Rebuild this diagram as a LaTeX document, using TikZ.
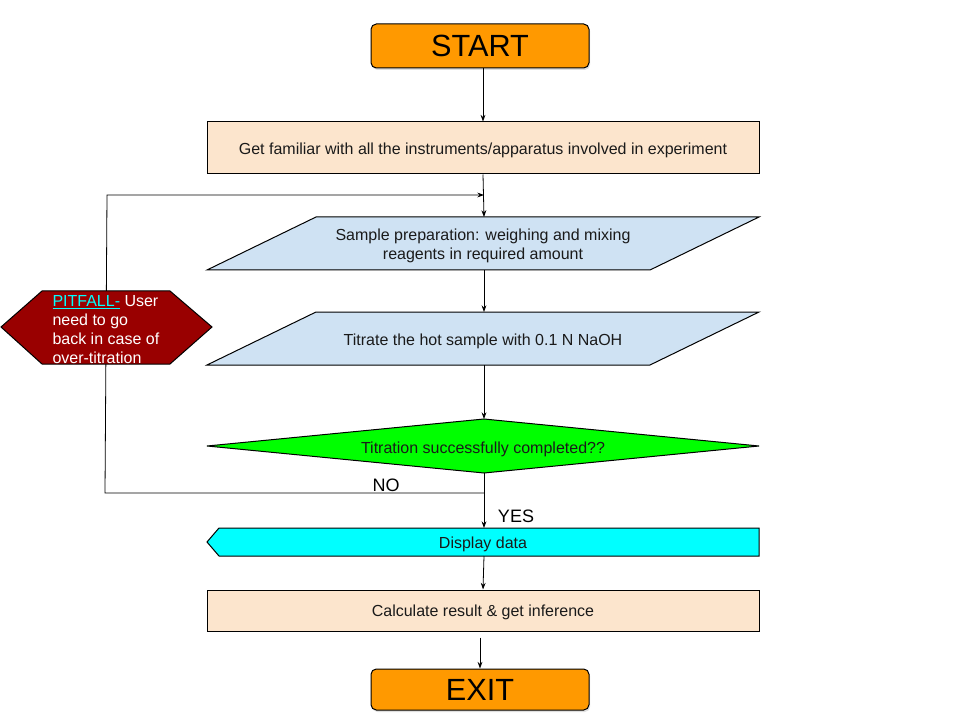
\documentclass[tikz,border=0pt]{standalone}
\usepackage{fontspec}
\setmainfont{Liberation Sans}
\usetikzlibrary{arrows.meta,shadows}
\definecolor{termorange}{HTML}{FF9900}
\definecolor{peach}{HTML}{FCE5CD}
\definecolor{lightblue}{HTML}{CFE2F3}
\definecolor{brightgreen}{HTML}{00FF00}
\definecolor{cyanc}{HTML}{00FFFF}
\definecolor{darkred}{HTML}{990000}
\definecolor{txtgray}{HTML}{1A1A1A}
\begin{document}
\begin{tikzpicture}[x=0.75pt,y=-0.75pt, line width=0.75pt,
  arr/.style={-{Stealth[length=5pt,width=3.6pt]}, line width=0.6pt},
  term/.style={draw, fill=termorange, rounded corners=4pt, minimum width=163.5pt,
    font=\fontsize{23}{27}\selectfont,
    drop shadow={shadow xshift=0.8pt, shadow yshift=-1.5pt, opacity=0.25}},
  proc/.style={draw, fill=peach, minimum width=414pt, text height=11.8pt, text depth=2.6pt,
    font=\fontsize{12}{14.25}\selectfont, text=txtgray},
  txt/.style={font=\fontsize{12}{14.25}\selectfont, align=center, text=txtgray},
  lbl/.style={font=\fontsize{13.5}{16}\selectfont}]
\useasboundingbox (0,0) rectangle (960,720);

% terminals and process boxes
\node[term, minimum height=33pt] (start) at (480,46) {START};
\node[proc, minimum height=39pt] (fam) at (483,148) {Get familiar with all the instruments/apparatus involved in experiment};

% sample preparation parallelogram
\draw[fill=lightblue] (316,217) -- (759,217) -- (650,270) -- (207,270) -- cycle;
\node[txt] (prep) at (483,246) {Sample preparation: weighing and mixing\\reagents in required amount};
\coordinate (prepT) at (484,217);
\coordinate (prepB) at (484,270);

% titration parallelogram
\draw[fill=lightblue] (316,312) -- (759,312) -- (650,365) -- (207,365) -- cycle;
\node[txt] (titr) at (483,341) {Titrate the hot sample with 0.1 N NaOH};
\coordinate (titrT) at (484,312);
\coordinate (titrB) at (484,365);

% decision
\draw[fill=brightgreen] (207,446) -- (484,419) -- (759,446) -- (484,473) -- cycle;
\node[txt] (dec) at (483,449) {Titration successfully completed??};
\coordinate (decT) at (484,419);
\coordinate (decB) at (484,473);

% display
\draw[fill=cyanc] (219,528) -- (759,528) -- (759,556) -- (219,556) -- (207,542) -- cycle;
\node[txt] (disp) at (483,544) {Display data};
\coordinate (dispT) at (484,528);
\coordinate (dispB) at (484,556);

\node[proc, minimum height=30.75pt] (calc) at (483,610.5) {Calculate result \& get inference};
\node[term, minimum height=30.75pt] (exit) at (480,689.5) {EXIT};

% loop back line
\coordinate (noJ) at (484,493);
\coordinate (loopIn) at (484,195);
\draw[arr] (noJ) -- (105,493) -- (107,195) -- (loopIn);

% pitfall hexagon
\draw[fill=darkred] (1,327) -- (42,291) -- (170,291) -- (212,327) -- (170,364) -- (42,364) -- cycle;
\node[anchor=north west, inner sep=0pt, align=left, text=white, font=\fontsize{12}{14.25}\selectfont] (pit) at (52,295)
  {\textcolor{cyanc}{\underline{PITFALL-}} User\\need to go\\back in case of\\over-titration};

% connectors
\draw[arr] (start.south -| fam.north) -- (fam.north);
\draw[arr] (fam.south) -- (prepT);
\draw[arr] (prepB) -- (titrT);
\draw[arr] (titrB) -- (decT);
\draw[arr] (decB) -- (dispT);
\draw[arr] (dispB) -- (calc.north);
\draw[arr, shorten <=4.5pt] (calc.south -| exit.north) -- (exit.north);

% labels
\node[lbl] (no) at (386,485) {NO};
\node[lbl] (yes) at (516,516) {YES};
\end{tikzpicture}
\end{document}
